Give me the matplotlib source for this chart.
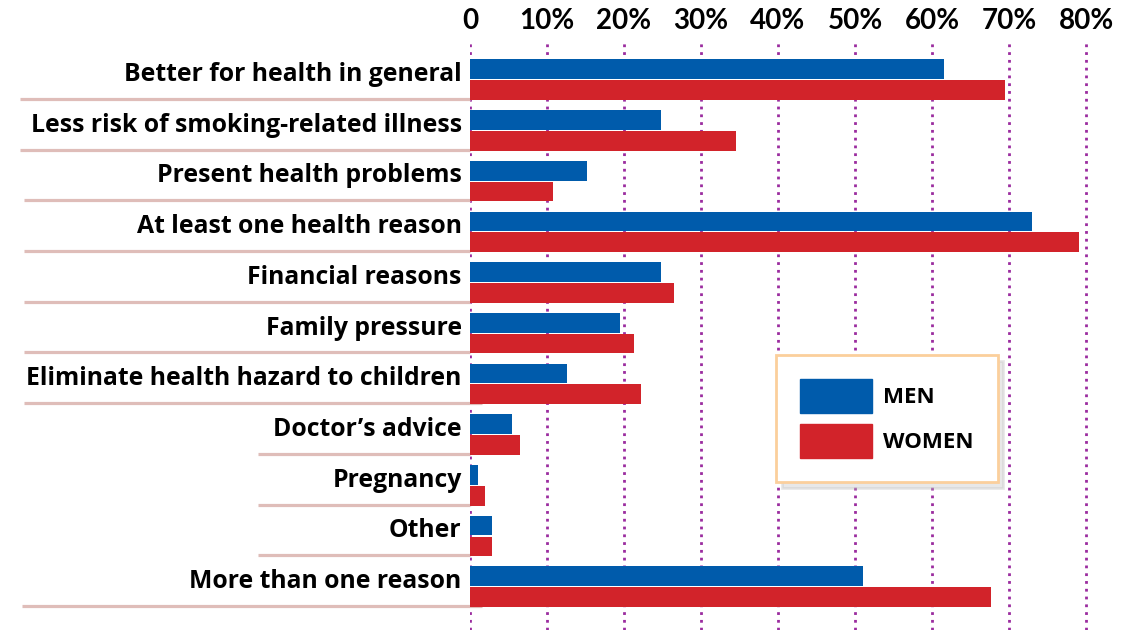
import matplotlib
matplotlib.use("Agg")
import matplotlib.pyplot as plt
import matplotlib.patches as mpatches
import matplotlib.transforms as mtransforms
import numpy as np

reasons = [
    "Better for health in general",
    "Less risk of smoking-related illness",
    "Present health problems",
    "At least one health reason",
    "Financial reasons",
    "Family pressure",
    "Eliminate health hazard to children",
    "Doctor\u2019s advice",
    "Pregnancy",
    "Other",
    "More than one reason",
]
men = [61.6, 24.8, 15.2, 73.0, 24.8, 19.5, 12.6, 5.5, 1.1, 2.9, 51.1]
women = [69.5, 34.5, 10.8, 79.1, 26.5, 21.3, 22.2, 6.5, 2.0, 2.9, 67.7]
xticks = [0, 10, 20, 30, 40, 50, 60, 70, 80]
xtick_labels = ["0", "10%", "20%", "30%", "40%", "50%", "60%", "70%", "80%"]

BLUE = "#005bab"
RED = "#d2232a"
GRID = "#9b2c9f"
SEP = "#dfbdb9"

plt.rcParams["font.family"] = ["Open Sans", "DejaVu Sans"]

fig = plt.figure(figsize=(11.33, 6.3), dpi=100)
px = 7.7  # pixels per percent
ax = fig.add_axes([470 / 1133, 0, 81 * px / 1133, 590 / 630])

rows = np.arange(len(reasons))
ax.barh(rows - 0.205, men, height=0.39, color=BLUE, zorder=3)
ax.barh(rows + 0.205, women, height=0.39, color=RED, zorder=3)

ax.set_xlim(0, 81)
ax.set_ylim(10.854, -0.783)

ax.set_xticks(xticks, xtick_labels)
ax.xaxis.tick_top()
ax.tick_params(axis="x", length=0, pad=4, labelsize=20)
for t in ax.get_xticklabels():
    t.set_fontweight("bold")
    t.set_fontfamily(["Lato", "DejaVu Sans"])

ax.set_yticks(rows - 0.16, reasons)
ax.tick_params(axis="y", length=0, pad=6, labelsize=17.8)
for t in ax.get_yticklabels():
    t.set_fontweight("bold")

ax.grid(axis="x", color=GRID, linestyle=(0, (1, 1.8)), linewidth=2, zorder=1)
ax.grid(axis="y", visible=False)
ax.set_axisbelow(True)
for s in ax.spines.values():
    s.set_visible(False)

# separator lines under each row, starting at various x (figure px)
sep_start = [20, 20, 24, 24, 24, 24, 24, 258, 258, 258, 22]
sep_end = [470, 470, 470, 470, 470, 470, 482, 470, 470, 470, 482]
trans = mtransforms.blended_transform_factory(fig.transFigure, ax.transData)
for r, x0, x1 in zip(rows, sep_start, sep_end):
    ax.plot([x0 / 1133, x1 / 1133], [r + 0.38, r + 0.38], color=SEP, lw=2.3,
            transform=trans, clip_on=False, zorder=2, solid_capstyle="butt")

handles = [mpatches.Patch(color=BLUE, label="MEN"),
           mpatches.Patch(color=RED, label="WOMEN")]
leg = ax.legend(handles=handles, loc="upper left",
                bbox_to_anchor=(776 / 1133, 1 - 355 / 630),
                bbox_transform=fig.transFigure,
                prop={"weight": "bold", "size": 16},
                handlelength=3.2, handleheight=1.95, handletextpad=0.5,
                labelspacing=0.5, borderpad=1.1, borderaxespad=0,
                fancybox=False, framealpha=1, edgecolor="#fbcf9c",
                shadow={"color": "0.75", "alpha": 0.35, "ox": 4, "oy": -4})
leg.get_frame().set_linewidth(2)
leg.set_zorder(5)

fig.savefig("out.png", dpi=100)
